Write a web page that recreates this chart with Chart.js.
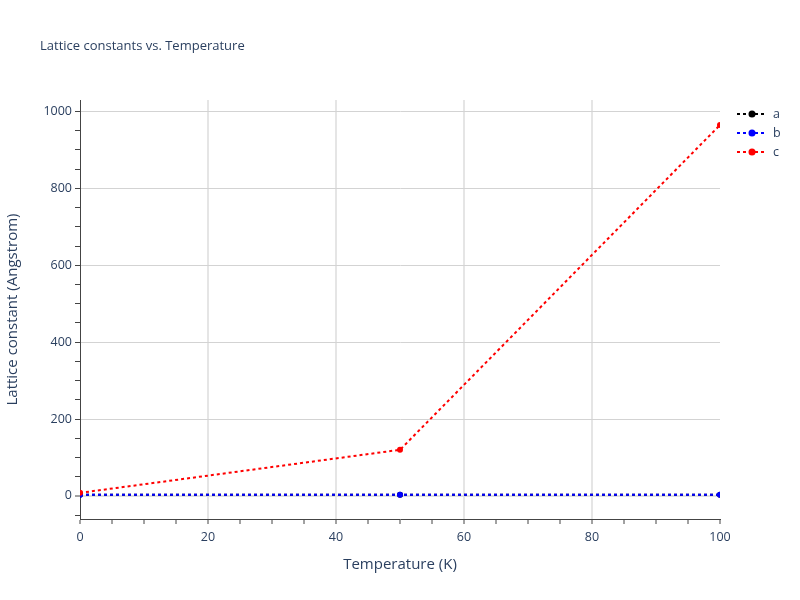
<!DOCTYPE html>
<html>
<head>
<meta charset="utf-8">
<script src="https://cdn.jsdelivr.net/npm/chart.js@4/dist/chart.umd.min.js"></script>
<style>
  body { margin: 0; background: #fff; }
  #wrap { width: 800px; height: 600px; }
</style>
</head>
<body>
<div id="wrap"><canvas id="myChart" width="800" height="600"></canvas></div>
<script>
var temps = [0, 50, 100];
var aValues = [3.2, 3.2, 3.2];
var bValues = [3.2, 3.2, 3.2];
var cValues = [8, 120, 965];
var seriesNames = ["a", "b", "c"];
var seriesColors = ["#000000", "#0000ff", "#ff0000"];
// tick marks (every 5 K / 50 A), labels only on the major ones
var xTicks = [0, 5, 10, 15, 20, 25, 30, 35, 40, 45, 50, 55, 60, 65, 70, 75, 80, 85, 90, 95, 100];
var yTicks = [-50, 0, 50, 100, 150, 200, 250, 300, 350, 400, 450, 500, 550, 600, 650, 700, 750, 800, 850, 900, 950, 1000];

var textColor = "#2a3f5f";
var font = "'Open Sans', 'Noto Sans', sans-serif";

function toPoints(vals) {
    return temps.map((t, i) => ({ x: t, y: vals[i] }));
}

function makeSet(name, vals, color, order) {
    return {
        label: name,
        data: toPoints(vals),
        borderColor: color,
        backgroundColor: color,
        borderWidth: 2,
        borderDash: [3, 3],
        pointRadius: 3,
        pointHoverRadius: 3,
        pointBorderWidth: 0,
        tension: 0,
        order: order
    };
}

// title + legend drawn like the plotly layout
const sidePlugin = {
    id: "side",
    afterDraw(chart) {
        const ctx = chart.ctx;
        ctx.save();
        ctx.fillStyle = textColor;
        ctx.font = "13px " + font;
        ctx.textBaseline = "middle";
        ctx.fillText("Lattice constants vs. Temperature", 40, 46);

        seriesNames.forEach((name, i) => {
            const y = 114 + i * 19;
            ctx.strokeStyle = seriesColors[i];
            ctx.lineWidth = 2;
            ctx.setLineDash([3, 3]);
            ctx.beginPath();
            ctx.moveTo(737, y);
            ctx.lineTo(767, y);
            ctx.stroke();
            ctx.setLineDash([]);
            ctx.fillStyle = seriesColors[i];
            ctx.beginPath();
            ctx.arc(752, y, 3.5, 0, Math.PI * 2);
            ctx.fill();
            ctx.fillStyle = textColor;
            ctx.font = "12.5px " + font;
            ctx.fillText(name, 773, y);
        });
        ctx.restore();
    }
};

const chart = new Chart("myChart", {
    type: "line",
    data: {
        datasets: [
            makeSet(seriesNames[0], aValues, seriesColors[0], 3),
            makeSet(seriesNames[1], bValues, seriesColors[1], 2),
            makeSet(seriesNames[2], cValues, seriesColors[2], 1)
        ]
    },
    options: {
        responsive: false,
        animation: false,
        layout: { padding: { left: 0, right: 80, top: 100, bottom: 22 } },
        plugins: {
            legend: { display: false },
            title: { display: false },
            tooltip: { enabled: false }
        },
        scales: {
            x: {
                type: "linear",
                min: 0,
                max: 100,
                afterFit(scale) { scale.height = 59; },
                afterBuildTicks(scale) {
                    scale.ticks = xTicks.map(v => ({ value: v }));
                },
                ticks: {
                    autoSkip: false,
                    maxRotation: 0,
                    color: textColor,
                    font: { size: 12.5, family: font },
                    padding: 6,
                    callback: v => (v % 20 === 0 ? v : "")
                },
                grid: {
                    color: c => (c.tick && c.tick.value % 20 === 0 && c.tick.value !== 0 && c.tick.value !== 100 ? "#e5e5e5" : "rgba(0,0,0,0)"),
                    lineWidth: 2,
                    tickColor: "#444",
                    tickWidth: 1,
                    tickLength: 5,
                    drawTicks: true
                },
                border: { display: true, color: "#444", width: 1 },
                title: {
                    display: true,
                    text: "Temperature (K)",
                    color: textColor,
                    font: { size: 15, family: font },
                    padding: { top: 8 }
                }
            },
            y: {
                type: "linear",
                min: -60,
                max: 1030,
                afterFit(scale) { scale.width = 80; },
                afterBuildTicks(scale) {
                    scale.ticks = yTicks.map(v => ({ value: v }));
                },
                ticks: {
                    autoSkip: false,
                    color: textColor,
                    font: { size: 12.5, family: font },
                    padding: 3,
                    callback: v => (v % 200 === 0 ? v : "")
                },
                grid: {
                    color: c => {
                        if (!c.tick) return "rgba(0,0,0,0)";
                        if (c.tick.value === 0) return "#e0e0e0";
                        return c.tick.value % 200 === 0 ? "#d3d3d3" : "rgba(0,0,0,0)";
                    },
                    lineWidth: c => (c.tick && c.tick.value === 0 ? 2 : 1),
                    tickColor: "#444",
                    tickWidth: 1,
                    tickLength: 5
                },
                border: { display: true, color: "#444", width: 1 },
                title: {
                    display: true,
                    text: "Lattice constant (Angstrom)",
                    color: textColor,
                    font: { size: 15, family: font },
                    padding: { bottom: 6 }
                }
            }
        }
    },
    plugins: [sidePlugin]
});
</script>
</body>
</html>
